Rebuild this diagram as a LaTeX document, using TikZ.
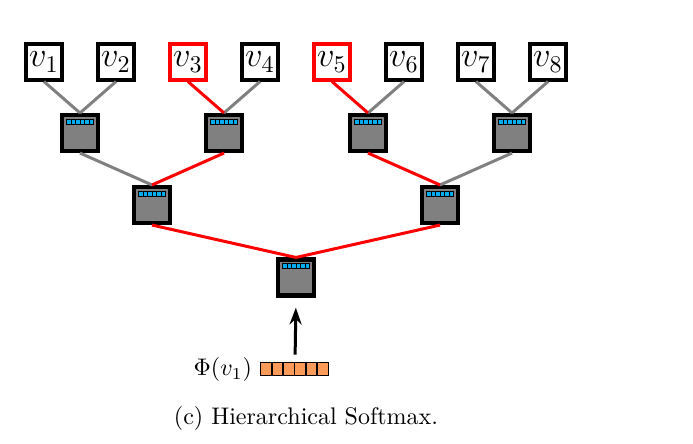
\documentclass[tikz,border=0pt]{standalone}
\usetikzlibrary{arrows.meta}
\definecolor{vecorange}{RGB}{252,154,90}
\tikzset{
  leaf/.style={draw, line width=1.5pt, fill=white, inner sep=0pt, minimum size=14.8pt, font=\Large},
  hsbox/.style={draw, line width=1.7pt, fill=gray, inner sep=0pt, minimum size=15pt},
  grayedge/.style={gray, line width=1.25pt},
  rededge/.style={red, line width=1.25pt},
}
\begin{document}
\begin{tikzpicture}[x=0.41667pt, y=-0.41667pt]
  \useasboundingbox (0,0) rectangle (693,443);
  \draw
    (44,62) node[leaf] (v1){$v_1$}
    (116,62) node[leaf] (v2){$v_2$}
    (188,62) node[leaf, draw=red] (v3){$v_3$}
    (260,62) node[leaf] (v4){$v_4$}
    (332,62) node[leaf, draw=red] (v5){$v_5$}
    (404,62) node[leaf] (v6){$v_6$}
    (476,62) node[leaf] (v7){$v_7$}
    (548,62) node[leaf] (v8){$v_8$}
    (80,133) node[hsbox] (n1){}
    (224,133) node[hsbox] (n2){}
    (368,133) node[hsbox] (n3){}
    (512,133) node[hsbox] (n4){}
    (152,205) node[hsbox] (m1){}
    (440,205) node[hsbox] (m2){}
    (296,277.5) node[hsbox] (root){}
    (295,369.5) node[minimum width=28.33pt, minimum height=5.42pt, inner sep=0pt] (phi){}
    (306,418) node (cap){(c) Hierarchical Softmax.};
  \begin{scope}[grayedge]
    \draw (v1.south) to (n1.north);
    \draw (v2.south) to (n1.north);
    \draw (v4.south) to (n2.north);
    \draw (v6.south) to (n3.north);
    \draw (v7.south) to (n4.north);
    \draw (v8.south) to (n4.north);
    \draw (n1.south) to (m1.north);
    \draw (n4.south) to (m2.north);
  \end{scope}
  \begin{scope}[rededge]
    \draw (v3.south) to (n2.north);
    \draw (v5.south) to (n3.north);
    \draw (n2.south) to (m1.north);
    \draw (n3.south) to (m2.north);
    \draw (m1.south) to (root.north);
    \draw (m2.south) to (root.north);
  \end{scope}
  % cyan bars on the softmax units
  \foreach \n in {n1,n2,n3,n4,m1,m2,root}
    \foreach \i in {0,...,5}
      \draw[fill=cyan, line width=0.3pt] ([shift={(-13.5+4.5*\i,-14)}]\n.center) rectangle ++(4.5,5);
  % input vector
  \foreach \i in {0,...,5}
    \draw[fill=vecorange, line width=0.6pt] ([shift={(11.33*\i,0)}]phi.north west) rectangle ++(11.33,13);
  \draw (phi.west) node[anchor=east] (lab){$\Phi(v_1)$};
  \draw[-{Stealth[length=7pt,width=5pt]}, line width=1.25pt, shorten <=3.3pt, shorten >=4.2pt] (phi.north) -- (root.south);
\end{tikzpicture}
\end{document}
